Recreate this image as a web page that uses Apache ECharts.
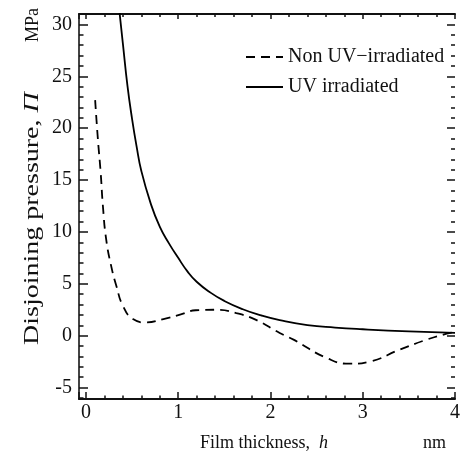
<!DOCTYPE html>
<html>
<head>
<meta charset="utf-8">
<script src="https://cdn.jsdelivr.net/npm/echarts@6/dist/echarts.min.js"></script>
<style>
  html, body { margin: 0; padding: 0; background: #fff; }
  #chart { width: 463px; height: 451px; }
</style>
</head>
<body>
<div id="chart"></div>
<script>
// film thickness h (nm) and disjoining pressure (MPa)
const hUV = [0.36, 0.40, 0.45, 0.50, 0.55, 0.60, 0.70, 0.80, 0.90, 1.00, 1.10, 1.20, 1.35, 1.50, 1.70, 1.90, 2.10, 2.40, 2.70, 3.00, 3.50, 4.00]
const pUV = [31.5, 28.2, 24.1, 20.9, 18.2, 15.9, 12.8, 10.5, 8.9, 7.5, 6.2, 5.2, 4.15, 3.35, 2.55, 1.95, 1.5, 1.02, 0.78, 0.62, 0.42, 0.28]

const hNonUV = [0.10, 0.13, 0.16, 0.184, 0.22, 0.274, 0.33, 0.40, 0.51, 0.65, 0.84, 1.02, 1.19, 1.42, 1.63, 1.85, 2.10, 2.25, 2.61, 2.86, 3.08, 3.40, 3.69, 3.91, 4.0]
const pNonUV = [22.7, 18.9, 15.7, 12.5, 9.25, 6.7, 4.8, 2.9, 1.6, 1.28, 1.6, 2.02, 2.45, 2.5, 2.18, 1.5, 0.26, -0.38, -2.15, -2.7, -2.48, -1.35, -0.39, 0.19, 0.35]

const seriesNames = ['Non UV\u2212irradiated', 'UV irradiated']

const serif = '"Liberation Serif", "Times New Roman", serif'
const ink = '#111'

function pairs (xs, ys) {
  return xs.map((x, i) => [x, ys[i]])
}

// shared look of the four frame axes
function frameAxis (pos, extra) {
  return Object.assign({
    type: 'value',
    position: pos,
    splitLine: { show: false },
    axisLine: { show: true, onZero: false, lineStyle: { color: ink, width: 2 } },
    axisTick: { show: true, inside: true, length: 8, lineStyle: { color: ink, width: 1.5 } },
    minorTick: { show: true, splitNumber: 5, length: 4, lineStyle: { color: ink, width: 1.5 } },
    axisLabel: { show: false }
  }, extra)
}

const chart = echarts.init(document.getElementById('chart'), null, { renderer: 'canvas' })

chart.setOption({
  backgroundColor: '#fff',
  animation: false,
  grid: { left: 79, right: 8, top: 14, bottom: 52 },
  legend: {
    orient: 'vertical',
    left: 240,
    top: 42,
    itemWidth: 37,
    itemHeight: 14,
    itemGap: 10,
    data: seriesNames,
    itemStyle: { opacity: 0 },
    textStyle: { fontFamily: serif, fontSize: 20, color: ink }
  },
  xAxis: [
    frameAxis('bottom', {
      min: -0.075, max: 4, minInterval: 1, maxInterval: 1, splitNumber: 4,
      axisTick: { show: true, inside: true, length: 7, lineStyle: { color: ink, width: 1.5 } },
      minorTick: { show: true, splitNumber: 5, length: 3.5, lineStyle: { color: ink, width: 1.5 } },
      axisLabel: { show: true, showMinLabel: false, margin: 4, fontFamily: serif, fontSize: 20, color: ink }
    }),
    frameAxis('top', {
      min: -0.075, max: 4, minInterval: 1, maxInterval: 1, splitNumber: 4,
      axisTick: { show: true, inside: true, length: 5, lineStyle: { color: ink, width: 1.5 } },
      minorTick: { show: true, splitNumber: 5, length: 3, lineStyle: { color: ink, width: 1.5 } }
    })
  ],
  yAxis: [
    frameAxis('left', {
      min: -6.1, max: 31, minInterval: 5, maxInterval: 5, splitNumber: 7,
      axisLine: { show: true, onZero: false, lineStyle: { color: '#444', width: 2 } },
      axisTick: { show: true, inside: true, length: 9, lineStyle: { color: ink, width: 1.5 } },
      minorTick: { show: true, splitNumber: 5, length: 4.5, lineStyle: { color: ink, width: 1.5 } },
      axisLabel: { show: true, showMinLabel: false, showMaxLabel: false, margin: 7, fontFamily: serif, fontSize: 20, color: ink }
    }),
    frameAxis('right', {
      min: -6.1, max: 31, minInterval: 5, maxInterval: 5, splitNumber: 7,
      axisLine: { show: false, onZero: false }
    })
  ],
  graphic: [
    {
      // the printed label is stretched along its baseline
      type: 'text', x: 33, y: 345, rotation: Math.PI / 2, scaleX: 1.4,
      style: {
        text: 'Disjoining pressure, {i|\u03A0}',
        font: '20px ' + serif, fill: ink, align: 'left', verticalAlign: 'middle',
        rich: { i: { fontStyle: 'italic', fontFamily: serif, fontSize: 20, fill: ink } }
      }
    },
    {
      type: 'text', x: 33, y: 42, rotation: Math.PI / 2,
      style: { text: 'MPa', font: '18px ' + serif, fill: ink, align: 'left', verticalAlign: 'middle' }
    },
    {
      type: 'text', x: 200, y: 443,
      style: {
        text: 'Film thickness,  {i|h}',
        font: '18px ' + serif, fill: ink, align: 'left', verticalAlign: 'middle',
        rich: { i: { fontStyle: 'italic', fontFamily: serif, fontSize: 18, fill: ink } }
      }
    },
    {
      type: 'text', x: 423, y: 443,
      style: { text: 'nm', font: '18px ' + serif, fill: ink, align: 'left', verticalAlign: 'middle' }
    }
  ],
  series: [
    {
      name: seriesNames[0],
      type: 'line',
      data: pairs(hNonUV, pNonUV),
      smooth: 0.5,
      symbol: 'none',
      lineStyle: { color: '#000', width: 1.8, type: [9, 6] },
      itemStyle: { color: '#000' }
    },
    {
      name: seriesNames[1],
      type: 'line',
      data: pairs(hUV, pUV),
      smooth: 0.5,
      symbol: 'none',
      lineStyle: { color: '#000', width: 1.8 },
      itemStyle: { color: '#000' }
    }
  ]
})
</script>
</body>
</html>
